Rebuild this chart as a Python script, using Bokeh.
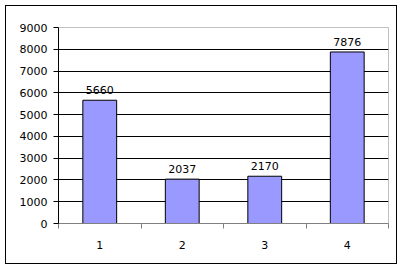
from bokeh.plotting import figure
from bokeh.models import Range1d, FixedTicker, ColumnDataSource
from bokeh.embed import file_html
from bokeh.resources import INLINE
from bokeh.core.properties import value

categories = ["1", "2", "3", "4"]
values = [5660, 2037, 2170, 7876]
yticks = [0, 1000, 2000, 3000, 4000, 5000, 6000, 7000, 8000, 9000]

xs = [i + 1 for i in range(len(categories))]
src = ColumnDataSource(dict(x=xs, top=values, lab=[str(v) for v in values]))

p = figure(width=392, height=259, output_backend="svg", toolbar_location=None,
           x_range=Range1d(0.5, 4.5), y_range=Range1d(0, 9000),
           min_border_left=52, min_border_right=10, min_border_top=21, min_border_bottom=42,
           styles={"border": "1px solid black", "margin-left": "5px", "margin-top": "5px"})
p.background_fill_color = "white"
p.border_fill_color = "white"
p.outline_line_color = "#c0c0c0"

p.vbar(x="x", top="top", width=0.41, source=src, fill_color="#9999FF", line_color="black", line_width=1)
p.text(x="x", y="top", text="lab", source=src, text_align="center", text_baseline="alphabetic",
       y_offset=-10, text_font=value("DejaVu Sans"), text_font_size="11px", text_color="black")

xa = p.xaxis[0]
xa.ticker = FixedTicker(ticks=xs, minor_ticks=[0.5, 1.5, 2.5, 3.5, 4.5])
xa.major_label_overrides = {x: c for x, c in zip(xs, categories)}
xa.major_tick_line_color = None
xa.major_tick_in = 0
xa.major_tick_out = 0
xa.minor_tick_in = 0
xa.minor_tick_out = 5
xa.minor_tick_line_color = "#808080"
xa.axis_line_color = "#808080"
xa.major_label_standoff = 12
xa.major_label_text_font = "DejaVu Sans"
xa.major_label_text_font_size = "11px"
xa.major_label_text_color = "black"

ya = p.yaxis[0]
ya.ticker = FixedTicker(ticks=yticks, minor_ticks=[])
ya.major_tick_in = 0
ya.major_tick_out = 5
ya.major_tick_line_color = "black"
ya.axis_line_color = "black"
ya.major_label_standoff = 6
ya.major_label_text_font = "DejaVu Sans"
ya.major_label_text_font_size = "11px"
ya.major_label_text_color = "black"

p.xgrid.grid_line_color = None
p.ygrid.grid_line_color = "black"
p.ygrid.grid_line_alpha = 1.0

open("out.html", "w").write(file_html(p, INLINE))
